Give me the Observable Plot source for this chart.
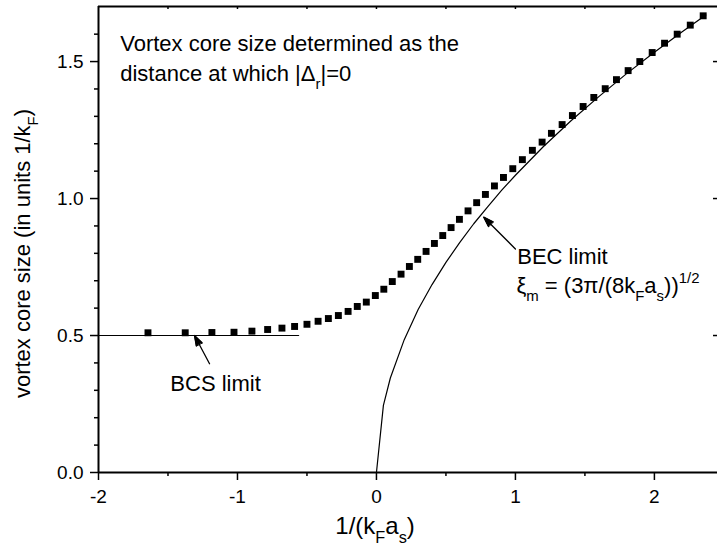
<!DOCTYPE html>
<html>
<head>
<meta charset="utf-8">
<script src="https://cdn.jsdelivr.net/npm/d3@7"></script>
<script src="https://cdn.jsdelivr.net/npm/@observablehq/plot@0.6"></script>
<style>
  html, body { margin: 0; padding: 0; background: #fff; }
</style>
</head>
<body>
<div id="chart"></div>
<script>
// ---- data ----
const coreX = [-1.644,-1.376,-1.184,-1.025,-0.896,-0.783,-0.680,-0.589,-0.500,-0.420,-0.346,-0.274,-0.204,-0.138,-0.073,-0.008,0.053,0.114,0.177,0.237,0.297,0.357,0.417,0.477,0.537,0.597,0.659,0.721,0.784,0.849,0.914,0.981,1.050,1.122,1.192,1.259,1.336,1.410,1.487,1.564,1.646,1.727,1.811,1.895,1.984,2.073,2.164,2.258,2.351];
const coreSize = [0.510,0.510,0.511,0.512,0.516,0.522,0.527,0.533,0.541,0.552,0.562,0.573,0.588,0.606,0.622,0.646,0.669,0.697,0.724,0.752,0.778,0.807,0.836,0.865,0.894,0.924,0.955,0.985,1.015,1.046,1.077,1.109,1.142,1.176,1.206,1.238,1.270,1.303,1.336,1.369,1.401,1.434,1.467,1.500,1.533,1.567,1.600,1.633,1.667];

const becX = [0, 0.05, 0.1, 0.2, 0.3, 0.4, 0.5, 0.6, 0.7, 0.8, 0.9, 1.0, 1.2, 1.4, 1.6, 1.8, 2.0, 2.2, 2.37];
const becY = [0, 0.245, 0.345, 0.485, 0.595, 0.686, 0.767, 0.84, 0.908, 0.970, 1.030, 1.085, 1.189, 1.284, 1.372, 1.456, 1.534, 1.609, 1.670];

const bcsX = [-2, -0.56];
const bcsY = [0.5, 0.5];

const xMajor = [-2, -1, 0, 1, 2];
const xMinor = [-1.5, -0.5, 0.5, 1.5];
const xTop = [-1.5, -1, -0.5, 0, 0.5, 1, 1.5, 2];
const yMajor = [0, 0.5, 1.0, 1.5];
const yMinor = [0.1,0.2,0.3,0.4,0.6,0.7,0.8,0.9,1.1,1.2,1.3,1.4,1.6];
const yRight = [0.5, 1.0, 1.5];

const xLabel = "1/(k_{F}a_{s})";
const yLabel = "vortex core size (in units 1/k_{F})";

const noteText = ["Vortex core size determined as the", "distance at which |Δ_{r}|=0", "BCS limit", "BEC limit", "ξ_{m} = (3π/(8k_{F}a_{s}))^{1/2}"];
const noteX = [-1.844, -1.844, -1.483, 1.013, 1.007];
const noteY = [1.566, 1.456, 0.325, 0.788, 0.682];

const arrowX1 = [-1.201, 1.000];
const arrowY1 = [0.397, 0.816];
const arrowX2 = [-1.309, 0.772];
const arrowY2 = [0.500, 0.932];

// ---- chart ----
const W = 717, H = 550, mL = 98, mR = 0, mT = 6, mB = 78;
const plotW = W - mL - mR, plotH = H - mT - mB;
const yMax = 1.701;

const coreData = coreX.map((x, i) => ({x, y: coreSize[i]}));
const becData = becX.map((x, i) => ({x, y: becY[i]}));
const bcsData = bcsX.map((x, i) => ({x, y: bcsY[i]}));
const arrows = arrowX1.map((x, i) => ({x1: x, y1: arrowY1[i], x2: arrowX2[i], y2: arrowY2[i]}));

const chart = Plot.plot({
  width: W, height: H,
  marginLeft: mL, marginRight: mR, marginTop: mT, marginBottom: mB,
  x: {domain: [-2, 2.454]},
  y: {domain: [0, yMax]},
  style: {fontFamily: "'Liberation Sans', Arial, Helvetica, sans-serif", fontSize: "19px", color: "black", background: "white"},
  marks: [
    Plot.axisX(xMajor, {tickSize: 8, tickPadding: 9, tickFormat: d => String(d), strokeWidth: 1.5, fontSize: 19, label: null}),
    Plot.axisX(xMinor, {tickSize: 4, tickFormat: () => "", strokeWidth: 1.5, label: null}),
    Plot.axisY(yMajor, {tickSize: 8, tickPadding: 7, tickFormat: d => d.toFixed(1), strokeWidth: 1.5, fontSize: 19, label: null}),
    Plot.axisY(yMinor, {tickSize: 4, tickFormat: () => "", strokeWidth: 1.5, label: null}),
    Plot.ruleX(xTop, {x: d => d, insetBottom: plotH - 3, strokeWidth: 1.5}),
    Plot.ruleY(yRight, {y: d => d, insetLeft: plotW - 4, strokeWidth: 1.5}),
    Plot.ruleY([0, yMax], {strokeWidth: 2}),
    Plot.ruleX([-2], {strokeWidth: 2}),
    Plot.line(bcsData, {x: "x", y: "y", stroke: "black", strokeWidth: 1.2}),
    Plot.line(becData, {x: "x", y: "y", stroke: "black", strokeWidth: 1.2, curve: "linear"}),
    Plot.dot(coreData, {x: "x", y: "y", symbol: "square", r: 3.9, fill: "black", stroke: "none"}),
    Plot.arrow(arrows, {x1: "x1", y1: "y1", x2: "x2", y2: "y2", headLength: 12, headAngle: 36, strokeWidth: 1.3, stroke: "black"}),
    Plot.text(noteText, {x: (d, i) => noteX[i], y: (d, i) => noteY[i], text: d => d, textAnchor: "start", fontSize: 22, fill: "black"}),
    Plot.text([xLabel], {x: -0.01, frameAnchor: "bottom", dy: 61, text: d => d, textAnchor: "middle", fontSize: 24, fill: "black"}),
    Plot.text([yLabel], {frameAnchor: "left", dx: -76, dy: 14, rotate: -90, text: d => d, textAnchor: "middle", fontSize: 22, fill: "black"})
  ]
});

// tick labels: enforce the font size
d3.select(chart).selectAll("g[aria-label='x-axis tick label'], g[aria-label='y-axis tick label']")
  .attr("font-size", 19).style("font-size", "19px")
  .selectAll("text").attr("font-size", 19).style("font-size", "19px");

// fill the arrowheads (solid triangles as in the reference)
d3.select(chart).selectAll("g[aria-label='arrow'] path").each(function () {
  const d = this.getAttribute("d") || "";
  const n = (d.match(/-?\d*\.?\d+(?:e-?\d+)?/g) || []).map(Number);
  if (n.length !== 10) return;
  const [, , x2, y2, hx1, hy1, , , hx2, hy2] = n;
  d3.select(this.parentNode).append("path")
    .attr("d", `M${hx1},${hy1}L${x2},${y2}L${hx2},${hy2}Z`)
    .attr("fill", "black").attr("stroke", "black").attr("stroke-width", 1).attr("stroke-linejoin", "miter");
});

// render _{sub} and ^{sup} markup as tspans
function richify(svg) {
  d3.select(svg).selectAll("text").each(function () {
    const s = this.textContent;
    if (!/[_^]\{/.test(s)) return;
    const el = d3.select(this);
    el.text(null);
    const re = /([_^])\{([^}]*)\}/g;
    let last = 0, m;
    let pendingBack = null;
    const k = 0.68;
    const addPlain = (t) => {
      if (!t) return;
      const ts = el.append("tspan").text(t);
      if (pendingBack !== null) { ts.attr("dy", pendingBack); pendingBack = null; }
    };
    while ((m = re.exec(s)) !== null) {
      addPlain(s.slice(last, m.index));
      const sub = m[1] === "_";
      const ts = el.append("tspan").text(m[2]).attr("font-size", k + "em");
      const d = sub ? 0.4 / k : -0.45 / k;
      ts.attr("dy", d.toFixed(3) + "em");
      pendingBack = (sub ? -0.4 : 0.45) + "em";
      last = re.lastIndex;
    }
    addPlain(s.slice(last));
  });
}
richify(chart);
document.getElementById("chart").appendChild(chart);
</script>
</body>
</html>
